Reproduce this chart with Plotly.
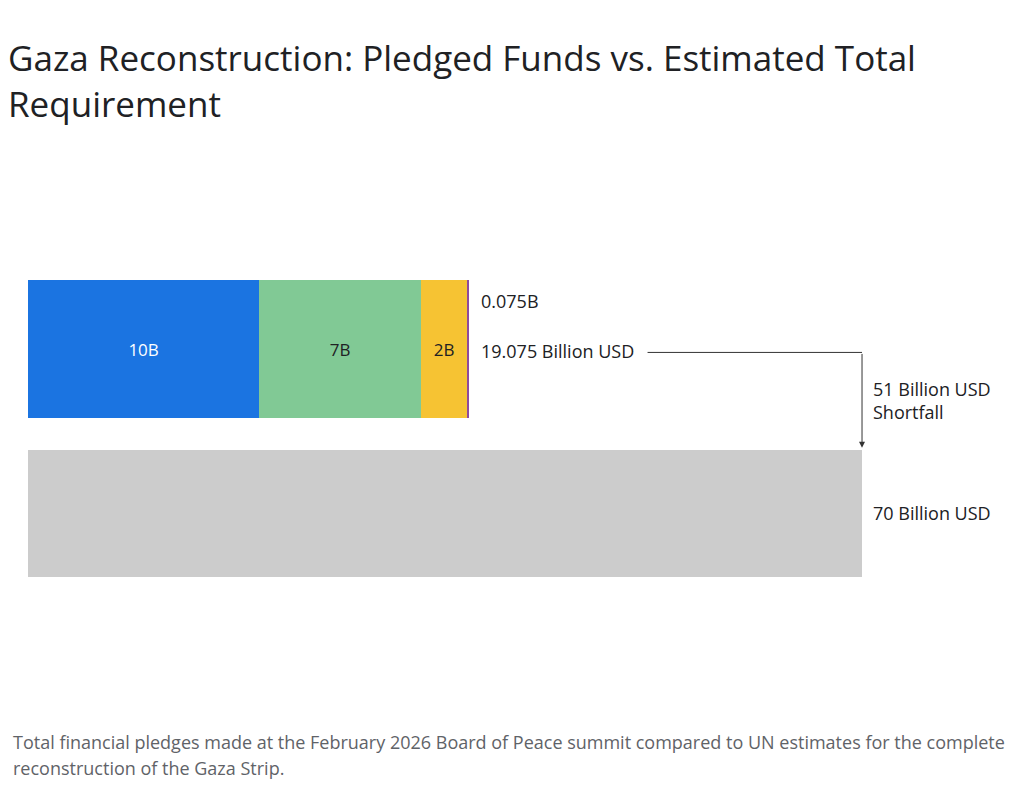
import plotly.graph_objects as go

# Pledges (billion USD) from the February 2026 Board of Peace summit
pledge_names = ["Pledge A", "Pledge B", "Pledge C", "Pledge D"]
pledge_values = [10, 7, 2, 0.075]
pledge_labels = ["10B", "7B", "2B", ""]
pledge_colors = ["#1b74e1", "#81c995", "#f6c333", "#8e4a9e"]
pledge_text_colors = ["#ffffff", "#202124", "#202124", "#202124"]

# UN estimate for full reconstruction (billion USD)
required_value = 70
required_color = "#cccccc"

pledged_total = sum(pledge_values)
shortfall = required_value - pledged_total

caption_lines = [
    "Total financial pledges made at the February 2026 Board of Peace summit "
    "compared to UN estimates for the complete",
    "reconstruction of the Gaza Strip.",
]

FONT = "Open Sans"
TEXT = "#202124"

fig = go.Figure()

# Stacked pledged bar (top row)
for name, val, lab, col, tcol in zip(
    pledge_names, pledge_values, pledge_labels, pledge_colors, pledge_text_colors
):
    fig.add_trace(
        go.Bar(
            x=[val],
            y=[1],
            orientation="h",
            name=name,
            marker=dict(color=col, line=dict(width=0)),
            width=0.84,
            text=[lab],
            textposition="inside",
            insidetextanchor="middle",
            textangle=0,
            constraintext="none",
            textfont=dict(family=FONT, size=17, color=tcol),
            hoverinfo="x",
            xaxis="x",
        )
    )

# Required total bar (bottom row), drawn on its own scale like the reference
fig.add_trace(
    go.Bar(
        x=[required_value],
        y=[0],
        orientation="h",
        name="UN estimate",
        marker=dict(color=required_color, line=dict(width=0)),
        width=0.774,
        hoverinfo="x",
        xaxis="x2",
    )
)

annotations = [
    dict(
        x=pledged_total, y=1, xref="x", yref="y",
        text=f"{pledge_values[-1]}B", showarrow=False,
        xanchor="left", xshift=10, yshift=48,
        font=dict(family=FONT, size=18, color=TEXT),
    ),
    dict(
        x=pledged_total, y=1, xref="x", yref="y",
        text=f"{pledged_total:.3f} Billion USD", showarrow=False,
        xanchor="left", xshift=10, yshift=-2,
        font=dict(family=FONT, size=18, color=TEXT),
    ),
    dict(
        x=required_value, y=0.69, xref="x2", yref="y",
        text=f"{round(shortfall)} Billion USD<br>Shortfall", showarrow=False,
        xanchor="left", align="left", xshift=9,
        font=dict(family=FONT, size=18, color=TEXT),
    ),
    dict(
        x=required_value, y=0, xref="x2", yref="y",
        text=f"{required_value} Billion USD", showarrow=False,
        xanchor="left", xshift=9,
        font=dict(family=FONT, size=18, color=TEXT),
    ),
    # arrow down to the requirement bar
    dict(
        x=required_value, y=0.40, xref="x2", yref="y",
        ax=required_value, ay=0.98, axref="x2", ayref="y",
        text="", showarrow=True,
        arrowhead=2, arrowsize=1.2, arrowwidth=1, arrowcolor="#333333",
    ),
]

# caption, one annotation per line for the reference's line spacing
for i, line in enumerate(caption_lines):
    annotations.append(
        dict(
            x=0, y=0, xref="paper", yref="paper",
            text=line, showarrow=False, xanchor="left", yanchor="middle",
            xshift=-17, yshift=-(32 + 26 * i),
            font=dict(family=FONT, size=18, color="#5f6368"),
        )
    )

shapes = [
    dict(
        type="line", xref="x2", yref="y",
        x0=52.0, x1=required_value, y0=0.98, y1=0.98,
        line=dict(color="#333333", width=1),
    )
]

fig.update_layout(
    width=1024,
    height=790,
    barmode="stack",
    showlegend=False,
    paper_bgcolor="#ffffff",
    plot_bgcolor="#ffffff",
    margin=dict(l=20, r=32, t=142, b=88),
    title=dict(
        text="Gaza Reconstruction: Pledged Funds vs. Estimated Total<br>Requirement",
        x=0, xref="container", xanchor="left",
        y=1 - 63 / 790, yref="container", yanchor="top",
        font=dict(family=FONT, size=35, color=TEXT),
    ),
    xaxis=dict(range=[0, 42.04], visible=False, fixedrange=True),
    xaxis2=dict(range=[0, 81.58], visible=False, overlaying="x", fixedrange=True),
    yaxis=dict(range=[-1.198, 2.213], visible=False, fixedrange=True),
    annotations=annotations,
    shapes=shapes,
)

fig.write_html("out.html")
